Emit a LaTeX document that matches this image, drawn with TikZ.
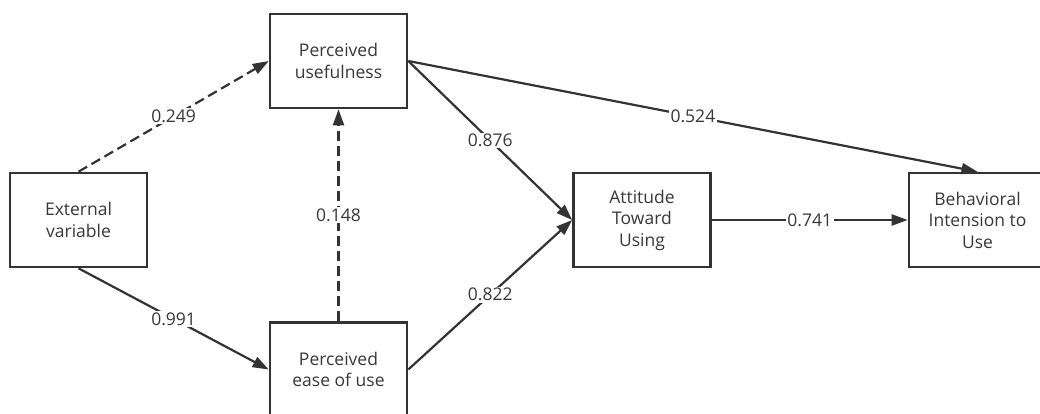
\documentclass[tikz,border=0pt]{standalone}
\usepackage{fontspec}
\setmainfont{Open Sans}
\usetikzlibrary{arrows.meta}
\definecolor{linec}{HTML}{333333}
\definecolor{textc}{HTML}{383838}
\tikzset{
  box/.style={draw=linec, line width=2.6pt, fill=white, minimum width=137pt, minimum height=94pt,
    inner sep=0pt, align=center, text=textc, font=\fontsize{17.5}{21.5}\selectfont},
  conn/.style={draw=linec, line width=2.2pt, -{Triangle[length=16pt,width=11pt]}},
  dashconn/.style={conn, dash pattern=on 10pt off 5pt},
  lbl/.style={fill=white, inner sep=1.5pt, text=textc, font=\fontsize{17.5}{21.5}\selectfont, pos=0.5}
}
\begin{document}
\begin{tikzpicture}[x=1pt,y=-1pt]
\useasboundingbox[fill=white] (0,0) rectangle (1040,414);
\node[box] (ext) at (78.5,220) {External\\variable};
\node[box] (pu) at (338.5,61) {Perceived\\usefulness};
\node[box] (peou) at (338.5,369.5) {Perceived\\ease of use};
\node[box] (att) at (642,220) {Attitude\\Toward\\Using};
\node[box] (beh) at (977.5,220) {Behavioral\\Intension to\\Use};
\draw[dashconn] (ext.north) -- node[lbl] {0.249} (pu.west);
\draw[conn] (ext.south) -- node[lbl] {0.991} (peou.west);
\draw[dashconn] (peou.north) -- node[lbl] {0.148} (pu.south);
\draw[conn] (pu.east) -- node[lbl] {0.876} (att.west);
\draw[conn] (peou.east) -- node[lbl] {0.822} (att.west);
\draw[conn] (pu.east) -- node[lbl] {0.524} (beh.north);
\draw[conn] (att.east) -- node[lbl] {0.741} (beh.west);
\end{tikzpicture}
\end{document}
